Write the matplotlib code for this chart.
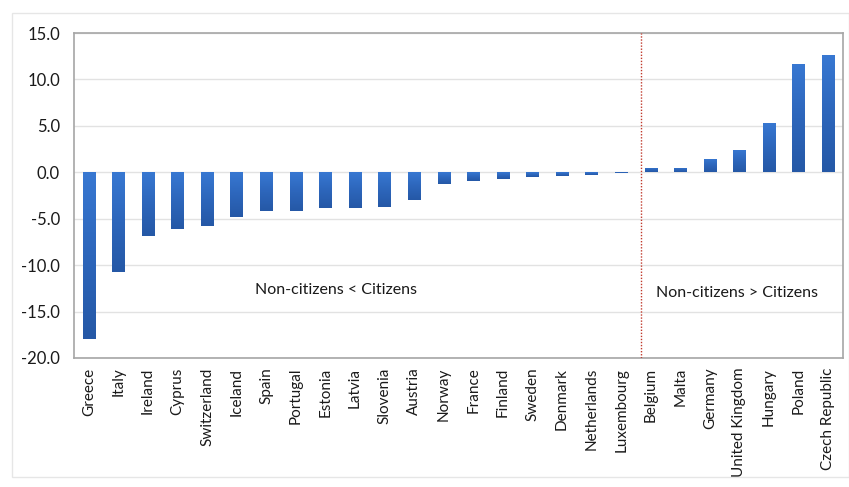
import matplotlib
matplotlib.use("Agg")
import matplotlib.pyplot as plt
import numpy as np
from matplotlib.colors import LinearSegmentedColormap
from matplotlib.patches import Rectangle

countries = ["Greece", "Italy", "Ireland", "Cyprus", "Switzerland", "Iceland", "Spain",
             "Portugal", "Estonia", "Latvia", "Slovenia", "Austria", "Norway", "France",
             "Finland", "Sweden", "Denmark", "Netherlands", "Luxembourg", "Belgium", "Malta",
             "Germany", "United Kingdom", "Hungary", "Poland", "Czech Republic"]
values = [-18.0, -10.7, -6.9, -6.1, -5.8, -4.8, -4.15, -4.15, -3.8, -3.8, -3.7, -2.95,
          -1.25, -0.9, -0.75, -0.5, -0.4, -0.3, -0.1, 0.5, 0.5, 1.45, 2.45, 5.3, 11.7, 12.6]
yticks = [-20.0, -15.0, -10.0, -5.0, 0.0, 5.0, 10.0, 15.0]
label_left = "Non-citizens < Citizens"
label_right = "Non-citizens > Citizens"

plt.rcParams['font.family'] = ['Lato', 'DejaVu Sans']

fig = plt.figure(figsize=(8.49, 4.87), dpi=100)
fig.patches.append(Rectangle((12/849, 1-477/487), (849-12)/849, (477-13)/487,
                             transform=fig.transFigure, fill=False,
                             edgecolor="#e6e6e6", linewidth=1.0))
ax = fig.add_axes([74/849, 1-358/487, (843-74)/849, (358-33)/487])

x = np.arange(len(countries))
bars = ax.bar(x, values, width=0.42, color="#2e68bd", zorder=3)

cmap = LinearSegmentedColormap.from_list("g", ["#3878d2", "#2d66bb", "#2558a6"])
grad = np.linspace(0, 1, 256).reshape(-1, 1)
for b in bars:
    x0 = b.get_x(); w = b.get_width()
    y0 = b.get_y(); h = b.get_height()
    lo, hi = min(y0, y0 + h), max(y0, y0 + h)
    if hi - lo <= 0:
        continue
    im = ax.imshow(grad, cmap=cmap, aspect="auto", extent=(x0, x0 + w, lo, hi),
                   origin="upper", zorder=4)
    im.set_clip_path(b)

ax.set_xlim(-0.5, len(countries) - 0.5)
ax.set_ylim(-20, 15)
ax.set_yticks(yticks)
ax.set_yticklabels([f"{v:.1f}" for v in yticks], fontsize=12)
ax.set_xticks(x)
ax.set_xticklabels(countries, rotation=90, fontsize=11)
ax.tick_params(axis="y", length=0, pad=10, colors="#1a1a1a")
ax.tick_params(axis="x", length=0, pad=7, colors="#1a1a1a")
ax.yaxis.grid(True, color="#e2e2e2", linewidth=1.0, zorder=0)
ax.set_axisbelow(True)
for s in ax.spines.values():
    s.set_color("#a6a6a6")
    s.set_linewidth(1.2)

ax.axvline(18.68, color="#c0392b", linestyle=(0, (1, 1.2)), linewidth=1.0, zorder=5)

ax.text(8.35, -12.7, label_left, fontsize=11.5, ha="center", va="center", color="#1a1a1a")
ax.text(21.9, -13.0, label_right, fontsize=11.5, ha="center", va="center", color="#1a1a1a")

fig.savefig("out.png", dpi=100)
